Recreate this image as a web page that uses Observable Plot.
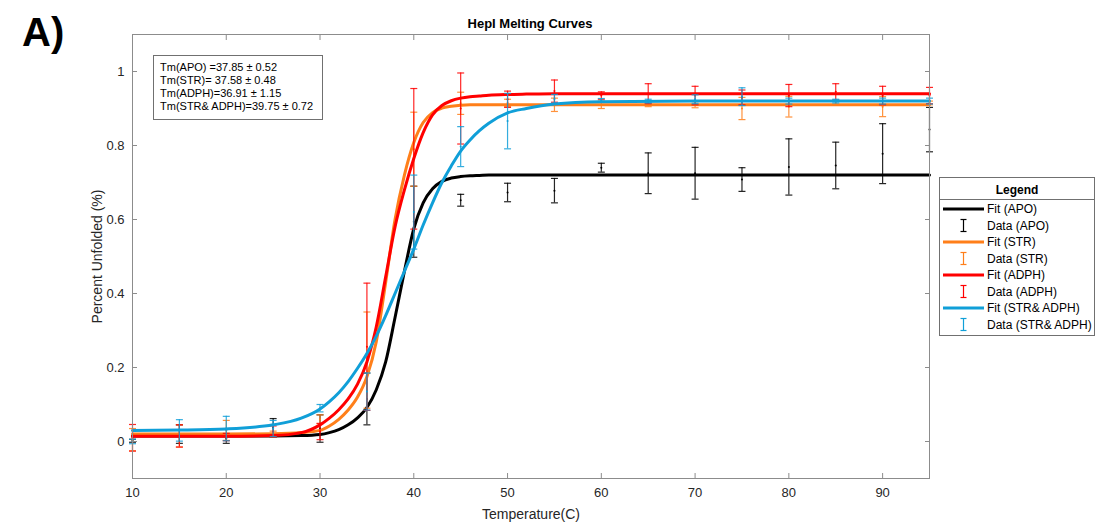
<!DOCTYPE html>
<html><head><meta charset="utf-8">
<script src="https://cdn.jsdelivr.net/npm/d3@7"></script>
<script src="https://cdn.jsdelivr.net/npm/@observablehq/plot@0.6"></script>
<style>
body{margin:0;background:#fff;font-family:"Liberation Sans",Arial,sans-serif;}
#chart{position:relative;width:1096px;height:522px;}
</style></head><body><div id="chart"></div>
<script>
// ---------- data ----------
const seriesNames = ["APO", "STR", "ADPH", "STR& ADPH"];
const seriesColors = ["#000000", "#ff7f1a", "#ff0000", "#109fd8"];
const tmLabels = ["Tm(APO) =37.85 \u00b1 0.52", "Tm(STR)= 37.58 \u00b1 0.48", "Tm(ADPH)=36.91 \u00b1 1.15", "Tm(STR& ADPH)=39.75 \u00b1 0.72"];

const temps = [10, 15, 20, 25, 30, 35, 40, 45, 50, 55, 60, 65, 70, 75, 80, 85, 90, 95];
const meanAPO  = [0.002, 0.020, 0.008, 0.037, 0.035, 0.115, 0.594, 0.652, 0.673, 0.678, 0.740, 0.725, 0.725, 0.708, 0.742, 0.746, 0.778, 0.843];
const errAPO   = [0.004, 0.025, 0.013, 0.025, 0.037, 0.070, 0.096, 0.016, 0.025, 0.033, 0.012, 0.055, 0.070, 0.032, 0.076, 0.063, 0.081, 0.060];
const meanSTR  = [0.005, 0.015, 0.030, 0.020, 0.060, 0.220, 0.790, 0.914, 0.915, 0.910, 0.910, 0.910, 0.910, 0.900, 0.905, 0.915, 0.905, 0.915];
const errSTR   = [0.030, 0.030, 0.027, 0.008, 0.012, 0.130, 0.100, 0.030, 0.010, 0.018, 0.010, 0.005, 0.008, 0.030, 0.028, 0.005, 0.027, 0.005];
const meanADPH = [0.010, 0.015, 0.012, 0.027, 0.027, 0.256, 0.764, 0.900, 0.925, 0.947, 0.935, 0.940, 0.935, 0.930, 0.935, 0.945, 0.935, 0.935];
const errADPH  = [0.036, 0.030, 0.010, 0.015, 0.022, 0.172, 0.190, 0.096, 0.022, 0.030, 0.010, 0.027, 0.025, 0.020, 0.030, 0.022, 0.025, 0.022];
const meanSA   = [0.000, 0.030, 0.035, 0.035, 0.090, 0.135, 0.620, 0.797, 0.866, 0.926, 0.922, 0.920, 0.925, 0.932, 0.920, 0.920, 0.920, 0.920];
const errSA    = [0.006, 0.029, 0.033, 0.022, 0.010, 0.050, 0.100, 0.054, 0.075, 0.012, 0.005, 0.005, 0.012, 0.024, 0.008, 0.005, 0.008, 0.008];

const fitT    = [10, 15, 20, 25, 28, 30, 31, 32, 33, 34, 35, 36, 37, 38, 39, 40, 41, 42, 43, 44, 45, 46, 47, 48, 50, 52, 55, 60, 70, 80, 95];
const fitAPO  = [0.015, 0.015, 0.015, 0.015, 0.016, 0.019, 0.024, 0.032, 0.045, 0.064, 0.092, 0.140, 0.215, 0.335, 0.460, 0.575, 0.645, 0.683, 0.703, 0.712, 0.716, 0.718, 0.719, 0.720, 0.720, 0.720, 0.720, 0.720, 0.720, 0.720, 0.720];
const fitSTR  = [0.020, 0.020, 0.020, 0.021, 0.024, 0.030, 0.042, 0.060, 0.085, 0.120, 0.175, 0.270, 0.430, 0.600, 0.720, 0.808, 0.862, 0.889, 0.901, 0.906, 0.909, 0.910, 0.910, 0.910, 0.910, 0.910, 0.910, 0.910, 0.910, 0.910, 0.910];
const fitADPH = [0.014, 0.014, 0.014, 0.016, 0.024, 0.045, 0.063, 0.086, 0.115, 0.155, 0.215, 0.310, 0.445, 0.580, 0.680, 0.765, 0.835, 0.883, 0.908, 0.921, 0.928, 0.932, 0.934, 0.936, 0.938, 0.939, 0.940, 0.940, 0.940, 0.940, 0.940];
const fitSA   = [0.030, 0.031, 0.034, 0.045, 0.063, 0.088, 0.108, 0.132, 0.162, 0.198, 0.238, 0.285, 0.340, 0.400, 0.460, 0.520, 0.585, 0.645, 0.700, 0.745, 0.785, 0.815, 0.840, 0.860, 0.888, 0.900, 0.912, 0.918, 0.920, 0.920, 0.920];

const xTicks = [10, 20, 30, 40, 50, 60, 70, 80, 90];
const yTicks = [0, 0.2, 0.4, 0.6, 0.8, 1];
const yTickLabels = ["0", "0.2", "0.4", "0.6", "0.8", "1"];

const titleText = "HepI Melting Curves";
const panelLabel = "A)";
const legendTitle = "Legend";

// ---------- build ----------
const means = [meanAPO, meanSTR, meanADPH, meanSA];
const errs = [errAPO, errSTR, errADPH, errSA];
const fits = [fitAPO, fitSTR, fitADPH, fitSA];

const capSymbol = {draw(ctx, size) { const r = Math.sqrt(size / Math.PI); ctx.moveTo(-r, 0); ctx.lineTo(r, 0); }};

const marks = [];
seriesNames.forEach((s, i) => {
  const fitRows = fitT.map((t, j) => ({t, v: fits[i][j]}));
  const dataRows = temps.map((t, j) => ({t, m: means[i][j], lo: means[i][j] - errs[i][j], hi: means[i][j] + errs[i][j]}));
  const c = seriesColors[i];
  marks.push(Plot.line(fitRows, {x: "t", y: "v", stroke: c, strokeWidth: 3, curve: "monotone-x"}));
  marks.push(Plot.ruleX(dataRows, {x: "t", y1: "lo", y2: "hi", stroke: c, strokeWidth: 1.2, strokeOpacity: 0.85}));
  marks.push(Plot.dot(dataRows, {x: "t", y: "lo", symbol: capSymbol, r: 3.5, stroke: c, strokeWidth: 1.2, strokeOpacity: 0.85}));
  marks.push(Plot.dot(dataRows, {x: "t", y: "hi", symbol: capSymbol, r: 3.5, stroke: c, strokeWidth: 1.2, strokeOpacity: 0.85}));
  marks.push(Plot.dot(dataRows, {x: "t", y: "m", r: 1, fill: c, stroke: "none"}));
});

const axisColor = "#8c8c8c";
const chart = Plot.plot({
  width: 1096, height: 522,
  marginLeft: 132, marginRight: 167, marginTop: 34, marginBottom: 44,
  style: {fontFamily: "'Liberation Sans', Arial, sans-serif", fontSize: "13px", color: "#262626", background: "#fff", overflow: "visible"},
  x: {domain: [10, 95]},
  y: {domain: [-0.1, 1.1]},
  marks: [
    ...marks,
    Plot.frame({stroke: axisColor}),
    // inward ticks on all four sides
    Plot.axisY(yTicks, {anchor: "left", tickSize: 5, dx: 5, stroke: axisColor, tickFormat: () => "", label: null}),
    Plot.axisY(yTicks, {anchor: "right", tickSize: 5, dx: -5, stroke: axisColor, tickFormat: () => "", label: null}),
    Plot.axisX(xTicks, {anchor: "bottom", tickSize: 5, dy: -5, stroke: axisColor, tickFormat: () => "", label: null}),
    Plot.axisX(xTicks, {anchor: "top", tickSize: 5, dy: 5, stroke: axisColor, tickFormat: () => "", label: null}),
    // labels
    Plot.axisY(yTicks, {anchor: "left", tickSize: 0, tickPadding: 8, tickFormat: (d, i) => yTickLabels[i], fontSize: 13, fill: "#262626",
      label: "Percent Unfolded (%)", labelAnchor: "center", labelArrow: "none", labelOffset: 40}),
    Plot.axisX(xTicks, {anchor: "bottom", tickSize: 0, tickPadding: 9, fontSize: 13, fill: "#262626",
      label: "Temperature(C)", labelAnchor: "center", labelArrow: "none", labelOffset: 40})
  ]
});
document.getElementById("chart").appendChild(chart);

// ---------- annotations ----------
const svg = d3.select(chart);
svg.selectAll("g[aria-label$='axis label'] text").attr("font-size", 14);

svg.append("text").attr("x", 530).attr("y", 28).attr("text-anchor", "middle")
  .attr("font-weight", "bold").attr("font-size", 13).attr("fill", "#000").text(titleText);
svg.append("text").attr("x", 22).attr("y", 46).attr("text-anchor", "start").attr("font-weight", "bold").attr("font-size", 40)
  .attr("font-family", "'Liberation Sans', Arial, sans-serif").attr("fill", "#000").text(panelLabel);

// Tm text box
const tb = svg.append("g").attr("text-anchor", "start");
tb.append("rect").attr("x", 153.5).attr("y", 55.5).attr("width", 169).attr("height", 64)
  .attr("fill", "#fff").attr("stroke", "#707070");
tmLabels.forEach((t, i) => tb.append("text").attr("x", 160).attr("y", 70.5 + i * 13.2)
  .attr("text-anchor", "start").attr("font-size", 11).attr("fill", "#000").text(t));

// Legend
const lg = svg.append("g").attr("text-anchor", "start");
lg.append("rect").attr("x", 939.5).attr("y", 177.5).attr("width", 155).attr("height", 158)
  .attr("fill", "#fff").attr("stroke", "#707070");
lg.append("text").attr("x", 1017).attr("y", 194).attr("text-anchor", "middle")
  .attr("font-weight", "bold").attr("font-size", 12).attr("fill", "#000").text(legendTitle);
lg.append("line").attr("x1", 939.5).attr("x2", 1094.5).attr("y1", 199.5).attr("y2", 199.5).attr("stroke", "#707070");
seriesNames.forEach((s, i) => {
  const c = seriesColors[i];
  const yf = 209 + 33 * i, yd = yf + 16.5;
  lg.append("line").attr("x1", 943).attr("x2", 984).attr("y1", yf).attr("y2", yf).attr("stroke", c).attr("stroke-width", 3);
  lg.append("text").attr("x", 987).attr("y", yf + 4).attr("text-anchor", "start").attr("font-size", 12).attr("fill", "#000").text(`Fit (${s})`);
  lg.append("line").attr("x1", 963.5).attr("x2", 963.5).attr("y1", yd - 6).attr("y2", yd + 6).attr("stroke", c).attr("stroke-width", 1.2);
  lg.append("line").attr("x1", 960.5).attr("x2", 966.5).attr("y1", yd - 6).attr("y2", yd - 6).attr("stroke", c).attr("stroke-width", 1.2);
  lg.append("line").attr("x1", 960.5).attr("x2", 966.5).attr("y1", yd + 6).attr("y2", yd + 6).attr("stroke", c).attr("stroke-width", 1.2);
  lg.append("text").attr("x", 987).attr("y", yd + 4).attr("text-anchor", "start").attr("font-size", 12).attr("fill", "#000").text(`Data (${s})`);
});
</script></body></html>
